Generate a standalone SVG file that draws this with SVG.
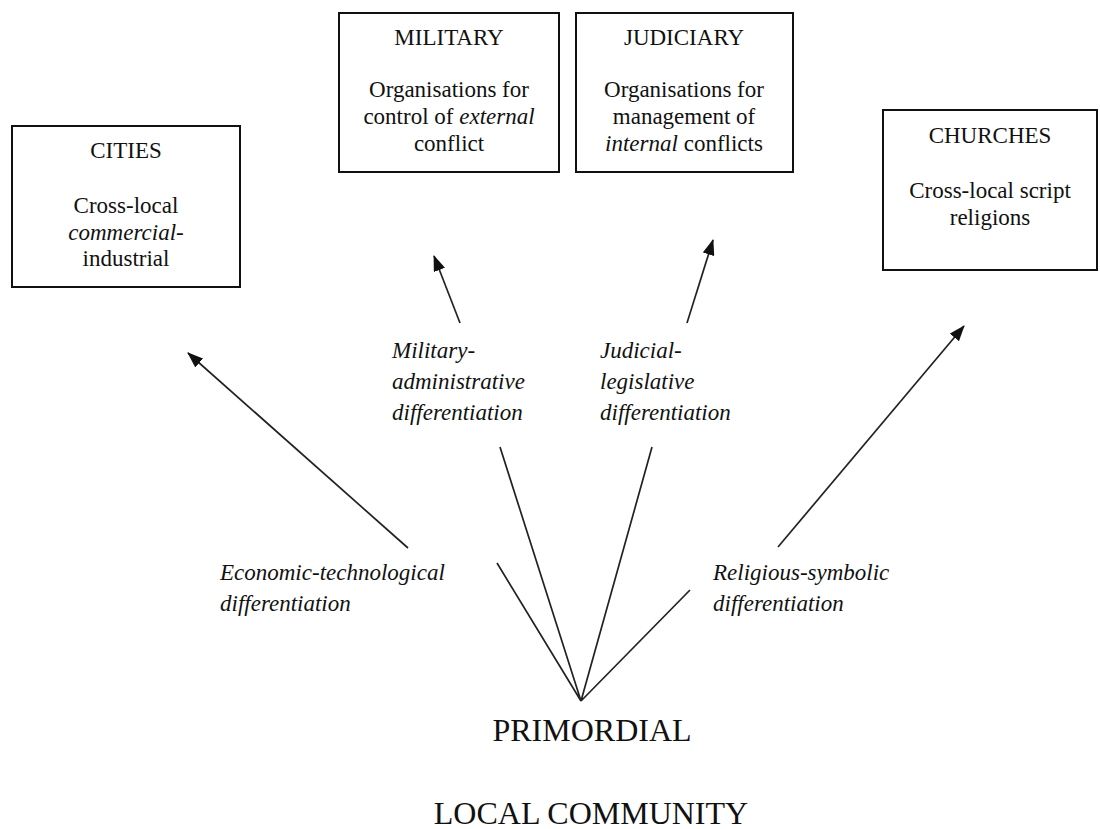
<svg xmlns="http://www.w3.org/2000/svg" width="1100" height="829" viewBox="0 0 1100 829">
<defs>
<style>
text{font-family:"Liberation Serif","Times New Roman",serif;fill:#111;}
.t{font-size:23px;text-anchor:middle;}
.l{font-size:23px;font-style:italic;}
.big{font-size:32px;text-anchor:middle;}
.box{fill:#fff;stroke:#111;stroke-width:2;}
.i{font-style:italic;}
.c{stroke:#222;stroke-width:1.7;fill:none;}
</style>
<marker id="a" viewBox="0 0 16 12" refX="15" refY="6" markerWidth="16" markerHeight="12" markerUnits="userSpaceOnUse" orient="auto">
<path d="M0,0 L16,6 L0,12 z" fill="#111"/>
</marker>
</defs>
<rect width="1100" height="829" fill="#fff"/>
<g id="cities">
<rect class="box" x="12" y="126" width="228" height="161"/>
<text class="t" x="126" y="158">CITIES</text>
<text class="t" x="126" y="213">Cross-local</text>
<text class="t" x="126" y="240"><tspan class="i">commercial</tspan>-</text>
<text class="t" x="126" y="266">industrial</text>
</g>
<g id="military">
<rect class="box" x="339" y="13" width="220" height="159"/>
<text class="t" x="449" y="45">MILITARY</text>
<text class="t" x="449" y="97">Organisations for</text>
<text class="t" x="449" y="124">control of <tspan class="i">external</tspan></text>
<text class="t" x="449" y="151">conflict</text>
</g>
<g id="judiciary">
<rect class="box" x="576" y="13" width="217" height="159"/>
<text class="t" x="684" y="45">JUDICIARY</text>
<text class="t" x="684" y="97">Organisations for</text>
<text class="t" x="684" y="124">management of</text>
<text class="t" x="684" y="151"><tspan class="i">internal</tspan> conflicts</text>
</g>
<g id="churches">
<rect class="box" x="883" y="110" width="214" height="160"/>
<text class="t" x="990" y="143">CHURCHES</text>
<text class="t" x="990" y="198">Cross-local script</text>
<text class="t" x="990" y="225">religions</text>
</g>
<g id="labels">
<text class="l" x="392" y="358">Military-</text>
<text class="l" x="392" y="389">administrative</text>
<text class="l" x="392" y="420">differentiation</text>
<text class="l" x="600" y="358">Judicial-</text>
<text class="l" x="600" y="389">legislative</text>
<text class="l" x="600" y="420">differentiation</text>
<text class="l" x="220" y="580">Economic-technological</text>
<text class="l" x="220" y="611">differentiation</text>
<text class="l" x="713" y="580">Religious-symbolic</text>
<text class="l" x="713" y="611">differentiation</text>
</g>
<g id="community">
<text class="big" x="592" y="741">PRIMORDIAL</text>
<text class="big" x="591" y="824">LOCAL COMMUNITY</text>
</g>
<g id="connectors">
<line class="c" x1="408" y1="548" x2="188" y2="353" marker-end="url(#a)"/>
<line class="c" x1="460" y1="323" x2="434" y2="256" marker-end="url(#a)"/>
<line class="c" x1="687" y1="323" x2="713" y2="240" marker-end="url(#a)"/>
<line class="c" x1="778" y1="547" x2="964" y2="326" marker-end="url(#a)"/>
<polyline class="c" points="497,563 581,701 500,447"/>
<polyline class="c" points="652,447 581,701 690,590"/>
</g>
</svg>
